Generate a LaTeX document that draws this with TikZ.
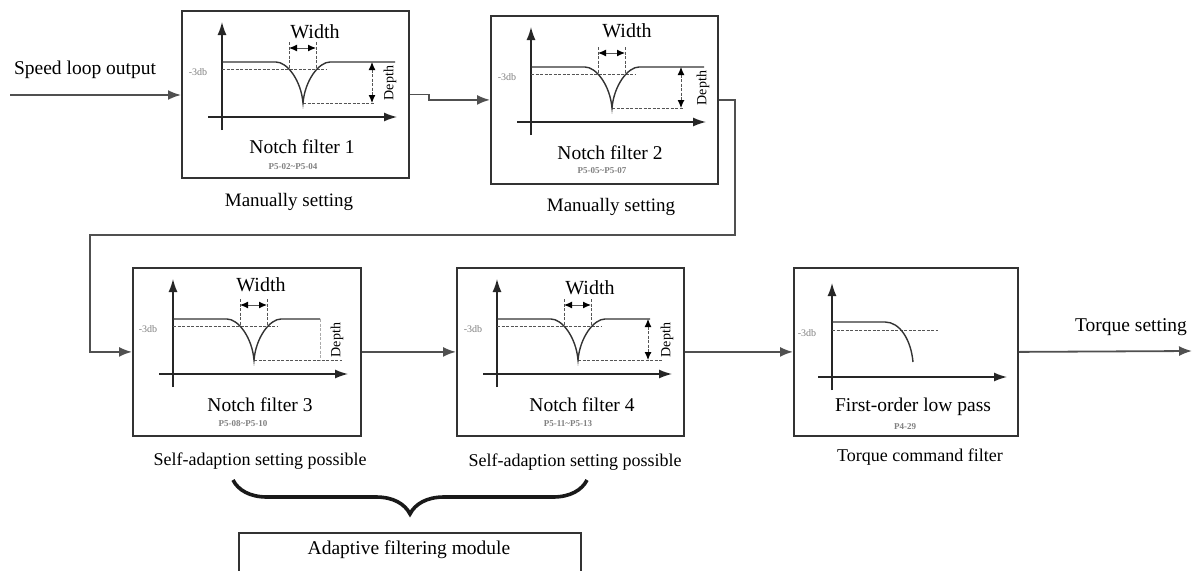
\documentclass[tikz,border=0pt]{standalone}
\usepackage{fontspec}
\setmainfont{Liberation Serif}
\usetikzlibrary{arrows.meta,decorations.pathreplacing}
\definecolor{boxc}{HTML}{333333}
\definecolor{connc}{HTML}{505050}
\definecolor{dashc}{HTML}{555555}
\definecolor{smallc}{HTML}{808080}
\tikzset{
  fbox/.style={draw=boxc,line width=1.8pt,fill=white,rectangle,inner sep=0pt},
  conn/.style={draw=connc,line width=1.8pt,-{Latex[length=13pt,width=10pt]}},
  axis/.style={draw=black!85,line width=1.4pt,-{Latex[length=13pt,width=9pt]}},
  resp/.style={draw=black!80,line width=1.4pt},
  dsh/.style={draw=dashc,line width=1pt,dash pattern=on 3pt off 1.5pt},
  dblarr/.style={draw=dashc,line width=1pt,dash pattern=on 3pt off 1.5pt,{Latex[length=8pt,width=7pt,color=black]}-{Latex[length=8pt,width=7pt,color=black]}},
  mainlbl/.style={font=\fontsize{19.5}{22}\selectfont,inner sep=0pt},
  sublbl/.style={font=\fontsize{18}{20}\selectfont,inner sep=0pt},
  titlelbl/.style={font=\fontsize{19.5}{22}\selectfont,inner sep=0pt},
  widthlbl/.style={font=\fontsize{20}{22}\selectfont,inner sep=0pt},
  depthlbl/.style={font=\fontsize{14}{16}\selectfont,inner sep=0pt,rotate=90},
  dblbl/.style={font=\fontsize{10}{11}\selectfont,text=smallc,inner sep=0pt},
  parlbl/.style={font=\bfseries\fontsize{9}{10}\selectfont,text=smallc,inner sep=0pt},
}
% notch graph: #1 X, #2 Y, #3 end of upper line, #4 end of bottom dashed
\newcommand\NotchCurve[4]{%
  \draw[axis] (#1+41,#2+120) -- (#1+41,#2+12);
  \draw[axis] (#1+27,#2+107) -- (#1+216,#2+107);
  \draw[dsh] (#1+41,#2+59) -- (#1+146,#2+59);
  \draw[dsh] (#1+122,#2+93) -- (#1+#4,#2+93);
  \draw[resp] (#1+41,#2+52) -- (#1+95,#2+52)
     .. controls (#1+106,#2+52) and (#1+120,#2+70) .. (#1+122,#2+93)
     .. controls (#1+124,#2+70) and (#1+138,#2+52) .. (#1+149,#2+52)
     -- (#1+#3,#2+52);
  \draw[dsh] (#1+108,#2+32) -- (#1+108,#2+59);
  \draw[dsh] (#1+135,#2+32) -- (#1+135,#2+59);
  \draw[dblarr,solid] (#1+108,#2+38) -- (#1+135,#2+38);
}
\begin{document}
\begin{tikzpicture}[x=1pt,y=-1pt]
\useasboundingbox (0,0) rectangle (1193,570);
\fill[white] (0,0) rectangle (1193,570);

% boxes
\node[fbox,minimum width=227pt,minimum height=167pt,anchor=north west] (b1) at (181,10) {};
\node[fbox,minimum width=227pt,minimum height=168pt,anchor=north west] (b2) at (490,15) {};
\node[fbox,minimum width=228pt,minimum height=168pt,anchor=north west] (b3) at (132,267) {};
\node[fbox,minimum width=227pt,minimum height=168pt,anchor=north west] (b4) at (456,267) {};
\node[fbox,minimum width=224pt,minimum height=168pt,anchor=north west] (b5) at (793,267) {};

% box 1 graph
\NotchCurve{181}{10}{214}{194}
\draw[dblarr] (372,62) -- (372,103);
\node[depthlbl] (d1) at (390,83) {Depth};
\node[dblbl] (m1) at (198,72) {-3db};
\node[widthlbl] (w1) at (315,32) {Width};
\node[titlelbl] (t1) at (302,147) {Notch filter 1};
\node[parlbl] (p1) at (293,167) {P5-02\textasciitilde P5-04};

% box 2 graph
\NotchCurve{490}{15}{214}{194}
\draw[dblarr] (681,67) -- (681,108);
\node[depthlbl,fill=white,inner sep=1pt] (d2) at (703,88) {Depth};
\node[dblbl] (m2) at (507,77) {-3db};
\node[widthlbl] (w2) at (627,31) {Width};
\node[titlelbl] (t2) at (610,153) {Notch filter 2};
\node[parlbl] (p2) at (602,171) {P5-05\textasciitilde P5-07};

% box 3 graph
\NotchCurve{132}{267}{188}{210}
\draw[dsh,draw=dashc!50] (320,319) -- (320,360);
\node[depthlbl] (d3) at (337,340) {Depth};
\node[dblbl] (m3) at (148,329) {-3db};
\node[widthlbl] (w3) at (261,285) {Width};
\node[titlelbl] (t3) at (260,405) {Notch filter 3};
\node[parlbl] (p3) at (243,424) {P5-08\textasciitilde P5-10};

% box 4 graph
\NotchCurve{456}{267}{194}{206}
\draw[dblarr] (648,319) -- (648,360);
\node[depthlbl] (d4) at (667,340) {Depth};
\node[dblbl] (m4) at (473,329) {-3db};
\node[widthlbl] (w4) at (590,288) {Width};
\node[titlelbl] (t4) at (582,405) {Notch filter 4};
\node[parlbl] (p4) at (568,424) {P5-11\textasciitilde P5-13};

% box 5 graph
\draw[axis] (832,390) -- (832,283);
\draw[axis] (818,377) -- (1007,377);
\draw[dsh] (832,330) -- (938,330);
\draw[resp] (832,322) -- (885,322) .. controls (900,322) and (911,340) .. (913,362);
\node[dblbl] (m5) at (807,333) {-3db};
\node[titlelbl] (t5) at (913,407) {First-order low pass};
\node[parlbl] (p5) at (905,427) {P4-29};

% connectors
\coordinate (in) at (10,95);
\draw[conn] (in) -- (in -| b1.west);
\node[mainlbl] (lin) at (85,70) {Speed loop output};
\draw[conn] (b1.east) -- ++(19,0) |- (b2.west);
\coordinate (c1) at (735,235);
\coordinate (c2) at (90,235);
\draw[conn] (b2.east) -| (c1) -- (c2) |- (b3.west);
\draw[conn] (b3.east) -- (b4.west);
\draw[conn] (b4.east) -- (b5.west);
\coordinate (out) at (1192,351);
\draw[conn] (b5.east) -- (out);
\node[mainlbl] (lout) at (1131,327) {Torque setting};

% sublabels
\node[sublbl,font=\fontsize{19}{21}\selectfont] (s1) at (289,202) {Manually setting};
\node[sublbl,font=\fontsize{19}{21}\selectfont] (s2) at (611,207) {Manually setting};
\node[sublbl] (s3) at (260,461) {Self-adaption setting possible};
\node[sublbl] (s4) at (575,462) {Self-adaption setting possible};
\node[sublbl] (s5) at (920,457) {Torque command filter};

% brace
\coordinate (bl) at (233,480);
\coordinate (br) at (587,480);
\draw[line width=3.6pt,black!90,decorate,decoration={brace,mirror,amplitude=34pt,aspect=0.5}] (bl) -- (br);

% adaptive module box
\node[draw=boxc,line width=1.5pt,minimum width=342pt,minimum height=44pt,anchor=north west,inner sep=0pt] (am) at (238,532) {};
\node[mainlbl] (amt) at (409,550) {Adaptive filtering module};
\end{tikzpicture}
\end{document}
